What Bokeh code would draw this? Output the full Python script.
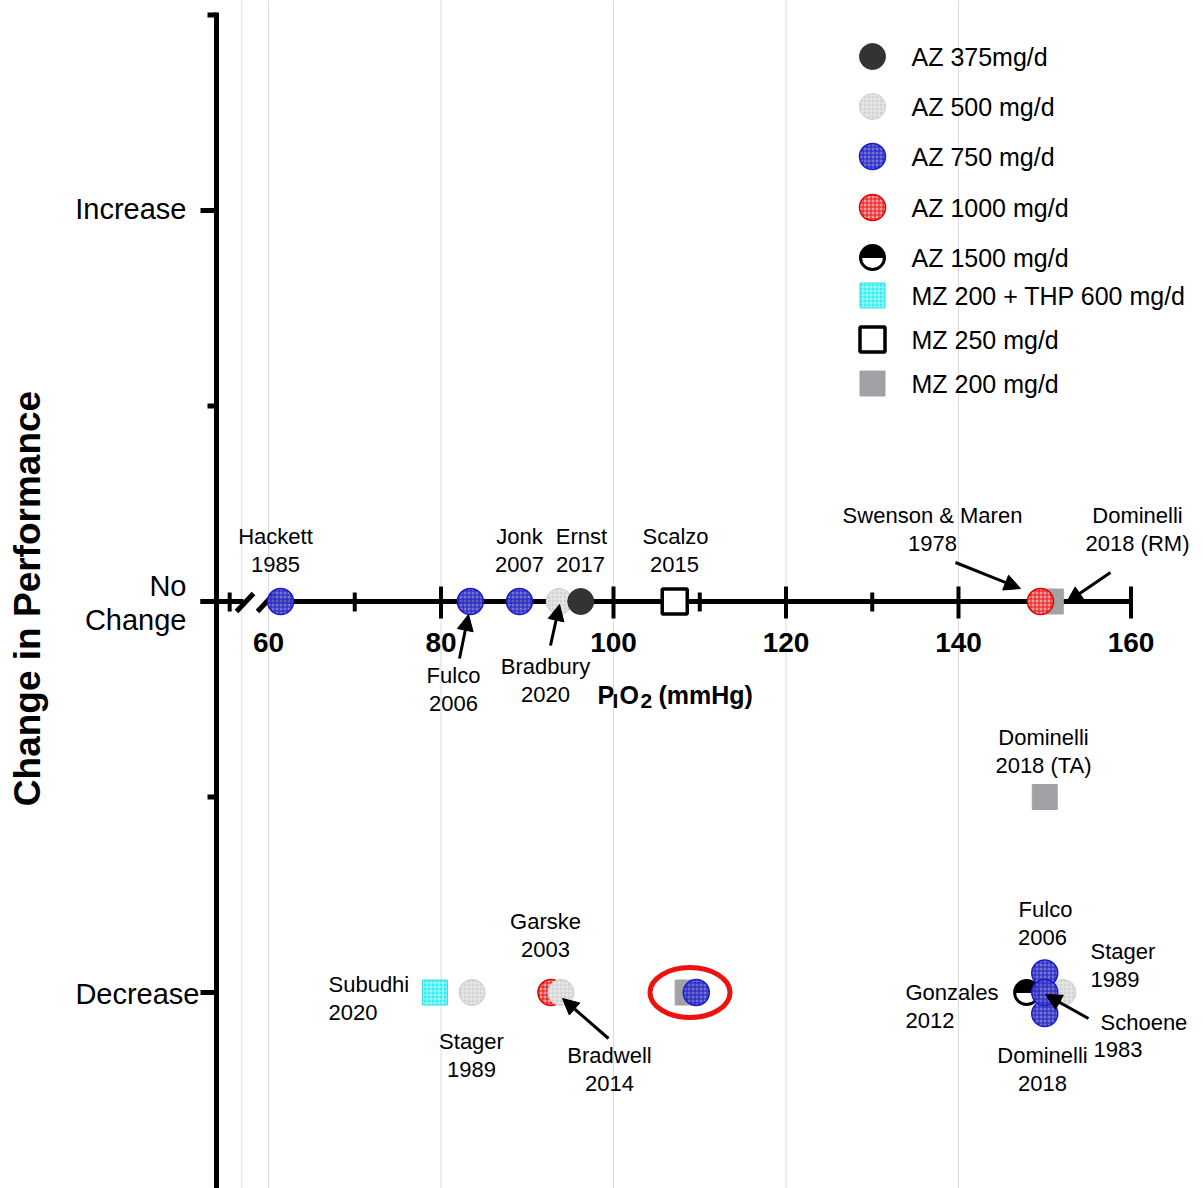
import numpy as np
from bokeh.plotting import figure
from bokeh.models import Range1d, Arrow, NormalHead
from bokeh.core.properties import value
from bokeh.embed import file_html
from bokeh.resources import INLINE

# ---------------- data ----------------
# outcome coding: 1 = Increase, 0 = No Change, -1 = Decrease (small offsets separate overlapping studies)
az375_pio2 = [96.2]
az375_perf = [0.0]
az500_pio2 = [93.7, 83.6, 93.9, 152.1]
az500_perf = [0.0, -1.0, -1.0, -1.0]
az750_pio2 = [61.4, 83.4, 89.1, 109.6, 150.0, 150.0, 150.0]
az750_perf = [0.0, 0.0, 0.0, -1.0, -0.95, -1.054, -1.0]
az1000_pio2 = [149.5, 92.75]
az1000_perf = [0.0, -1.0]
az1500_pio2 = [147.9]
az1500_perf = [-1.0]
mzthp_pio2 = [79.3]
mzthp_perf = [-1.0]
mz250_pio2 = [107.1]
mz250_perf = [0.0]
mz200_pio2 = [150.7, 150.0, 108.6]
mz200_perf = [0.0, -0.5, -1.0]

legend_names = ["AZ 375mg/d", "AZ 500 mg/d", "AZ 750 mg/d", "AZ 1000 mg/d",
                "AZ 1500 mg/d", "MZ 200 + THP 600 mg/d", "MZ 250 mg/d", "MZ 200 mg/d"]
x_tick_values = [60, 80, 100, 120, 140, 160]
x_minor_values = [55.5, 70, 110, 130]
grid_values = [56.9, 60, 80, 100, 120, 140]
y_tick_values = [1, 0, -1]
y_minor_values = [1.5, 0.5, -0.5]
y_tick_labels = ["Increase", "No\nChange", "Decrease"]

# study labels: (line text, x px, y px, align)
study_labels = [
    ("Hackett", 275, 536, "center"), ("1985", 275, 564, "center"),
    ("Jonk", 519, 536, "center"), ("2007", 519, 564, "center"),
    ("Ernst", 581, 536, "center"), ("2017", 580, 564, "center"),
    ("Scalzo", 675, 536, "center"), ("2015", 674, 564, "center"),
    ("Swenson & Maren", 932, 515, "center"), ("1978", 932, 543, "center"),
    ("Dominelli", 1137, 515, "center"), ("2018 (RM)", 1137, 543, "center"),
    ("Fulco", 453, 675, "center"), ("2006", 453, 703, "center"),
    ("Bradbury", 545, 666, "center"), ("2020", 545, 694, "center"),
    ("Dominelli", 1043, 737, "center"), ("2018 (TA)", 1043, 765, "center"),
    ("Garske", 545, 921, "center"), ("2003", 545, 949, "center"),
    ("Subudhi", 328, 984, "left"), ("2020", 328, 1012, "left"),
    ("Stager", 471, 1041, "center"), ("1989", 471, 1069, "center"),
    ("Bradwell", 609, 1055, "center"), ("2014", 609, 1083, "center"),
    ("Fulco", 1045, 909, "center"), ("2006", 1042, 937, "center"),
    ("Stager", 1090, 951, "left"), ("1989", 1090, 979, "left"),
    ("Gonzales", 905, 992, "left"), ("2012", 905, 1020, "left"),
    ("Schoene", 1100, 1022, "left"), ("1983", 1093, 1049, "left"),
    ("Dominelli", 1042, 1055, "center"), ("2018", 1042, 1083, "center"),
]
# arrows: (x_start px, y_start px, x_end px, y_end px)
arrow_px = [
    (459, 658, 468, 614),
    (550, 645, 559, 604),
    (955, 562, 1020, 588),
    (1110, 572, 1066, 602),
    (608, 1038, 562, 998),
    (1088, 1018, 1045, 994),
]

# ---------------- layout helpers ----------------
W, H = 1203, 1188
X0_PX, X0_VAL, PX_PER_X = 268.0, 60.0, 8.625
Y0_PX, PX_PER_Y = 601.0, 391.0


def xv(px):
    return X0_VAL + (px - X0_PX) / PX_PER_X


def yv(py):
    return (Y0_PX - py) / PX_PER_Y


FONT = value("Liberation Sans")

p = figure(width=W, height=H, x_range=Range1d(xv(0), xv(W)), y_range=Range1d(yv(H), yv(0)),
           output_backend="svg", toolbar_location=None, min_border=0,
           x_axis_location=None, y_axis_location=None)
p.grid.visible = False
p.outline_line_color = None
p.background_fill_color = "white"

# vertical grid lines
p.segment(x0=grid_values, y0=[yv(H + 5)] * len(grid_values), x1=grid_values,
          y1=[yv(-5)] * len(grid_values), line_color="#dcdcdc", line_width=1)

# ---------------- y axis ----------------
yaxis_x = xv(216)
p.segment(x0=[yaxis_x], y0=[yv(12)], x1=[yaxis_x], y1=[yv(H + 5)], line_color="black", line_width=5)
p.segment(x0=[xv(200)] * len(y_tick_values), y0=y_tick_values, x1=[yaxis_x] * len(y_tick_values),
          y1=y_tick_values, line_color="black", line_width=5)
p.segment(x0=[xv(207)] * len(y_minor_values), y0=y_minor_values, x1=[yaxis_x] * len(y_minor_values),
          y1=y_minor_values, line_color="black", line_width=5)
p.text(x=[xv(186), xv(186), xv(186), xv(199)], y=[yv(208), yv(585), yv(619), yv(993)],
       text=["Increase", "No", "Change", "Decrease"], text_font=FONT,
       text_font_size="29px", text_align="right", text_baseline="middle", text_color="black")
p.text(x=[xv(27)], y=[yv(598)], text=["Change in Performance"], angle=np.pi / 2,
       text_font=FONT, text_font_size="37px", text_font_style="bold",
       text_align="center", text_baseline="middle", text_color="black")

# ---------------- x axis (at No Change) ----------------
p.segment(x0=[xv(200), xv(266)], y0=[0, 0], x1=[xv(243), 160], y1=[0, 0], line_color="black", line_width=5)
# axis break slashes
p.segment(x0=[xv(236), xv(257)], y0=[yv(611), yv(611)], x1=[xv(253), xv(274)], y1=[yv(593), yv(593)],
          line_color="black", line_width=5)
major = x_tick_values[1:]
p.segment(x0=major, y0=[yv(586)] * len(major), x1=major, y1=[yv(618)] * len(major),
          line_color="black", line_width=4)
p.segment(x0=x_minor_values, y0=[yv(592)] * len(x_minor_values), x1=x_minor_values,
          y1=[yv(611)] * len(x_minor_values), line_color="black", line_width=4)
p.text(x=x_tick_values, y=[yv(642)] * len(x_tick_values), text=[str(v) for v in x_tick_values],
       text_font=FONT, text_font_size="28px", text_font_style="bold",
       text_align="center", text_baseline="middle", text_color="black")
# x title P_I O_2 (mmHg)
p.text(x=[xv(597), xv(619), xv(658)], y=[yv(694)] * 3, text=["P", "O", "(mmHg)"],
       text_font=FONT, text_font_size="25px", text_font_style="bold",
       text_align="left", text_baseline="alphabetic", text_color="black")
p.text(x=[xv(612), xv(640)], y=[yv(700)] * 2, text=["I", "2"],
       text_font=FONT, text_font_size="21px", text_font_style="bold",
       text_align="left", text_baseline="alphabetic", text_color="black")

# ---------------- markers ----------------
CIRC = 26
SQ = 25


def az500(x, y):
    p.scatter(x, y, marker="circle", size=CIRC, fill_color="#d2d2d2", line_color="#cccccc",
              line_width=1, hatch_pattern="+", hatch_color="#ececec", hatch_scale=4, hatch_weight=1)


def az750(x, y):
    p.scatter(x, y, marker="circle", size=CIRC, fill_color="#6464d2", fill_alpha=0.9, line_color="#1a1acc",
              line_width=1.5, hatch_pattern="+", hatch_color="#2020c0", hatch_scale=4, hatch_weight=1)


def az1000(x, y):
    p.scatter(x, y, marker="circle", size=CIRC, fill_color="#f6a0a0", line_color="#e00000",
              line_width=1.5, hatch_pattern="+", hatch_color="#e81010", hatch_scale=4, hatch_weight=1)


def az375(x, y):
    p.scatter(x, y, marker="circle", size=CIRC, fill_color="#333333", line_color="#333333", line_width=1)


def az1500(x, y):
    p.scatter(x, y, marker="circle", size=CIRC - 2, fill_color="white", line_color=None)
    p.wedge(x, y, radius=12, radius_units="screen", start_angle=0, end_angle=np.pi,
            fill_color="black", line_color="black")
    p.scatter(x, y, marker="circle", size=CIRC - 2, fill_color=None, line_color="black", line_width=3)


def mzthp(x, y):
    p.scatter(x, y, marker="square", size=SQ, fill_color="#30eef0", line_color="#30e0e8", line_width=1,
              hatch_pattern="+", hatch_color="#b0fafa", hatch_scale=4, hatch_weight=1)


def mz250(x, y):
    p.scatter(x, y, marker="square", size=SQ, fill_color="white", line_color="black", line_width=3.5)


def mz200(x, y):
    p.scatter(x, y, marker="square", size=SQ, fill_color="#a2a2a6", line_color="#a2a2a6", line_width=1)


mz200(mz200_pio2, mz200_perf)
mzthp(mzthp_pio2, mzthp_perf)
mz250(mz250_pio2, mz250_perf)
az1000(az1000_pio2, az1000_perf)
az500(az500_pio2, az500_perf)
az1500(az1500_pio2, az1500_perf)
az750(az750_pio2, az750_perf)
az375(az375_pio2, az375_perf)

# highlight ellipse
p.ellipse(x=[xv(689.5)], y=[-1], width=80, height=50, width_units="screen", height_units="screen",
          fill_color=None, line_color="#ee1111", line_width=5)

# study labels
p.text(x=[xv(r[1]) for r in study_labels if r[3] == "center"],
       y=[yv(r[2]) for r in study_labels if r[3] == "center"],
       text=[r[0] for r in study_labels if r[3] == "center"], text_font=FONT, text_font_size="22px",
       text_align="center", text_baseline="middle", text_color="black")
p.text(x=[xv(r[1]) for r in study_labels if r[3] == "left"],
       y=[yv(r[2]) for r in study_labels if r[3] == "left"],
       text=[r[0] for r in study_labels if r[3] == "left"], text_font=FONT, text_font_size="22px",
       text_align="left", text_baseline="middle", text_color="black")

for xs, ys, xe, ye in arrow_px:
    p.add_layout(Arrow(end=NormalHead(size=16, fill_color="black", line_color="black"),
                       x_start=xv(xs), y_start=yv(ys), x_end=xv(xe), y_end=yv(ye),
                       line_color="black", line_width=3))

# ---------------- legend ----------------
leg_rows_px = [56, 106, 156, 207, 257, 295, 339, 383]
lx = [xv(872)]
drawers = [az375, az500, az750, az1000, az1500, mzthp, mz250, mz200]
for fn, ry in zip(drawers, leg_rows_px):
    fn(lx, [yv(ry)])
p.text(x=[xv(911)] * len(legend_names), y=[yv(r) for r in leg_rows_px], text=legend_names,
       text_font=FONT, text_font_size="25px", text_align="left", text_baseline="middle", text_color="black")

open("out.html", "w").write(file_html(p, INLINE))
